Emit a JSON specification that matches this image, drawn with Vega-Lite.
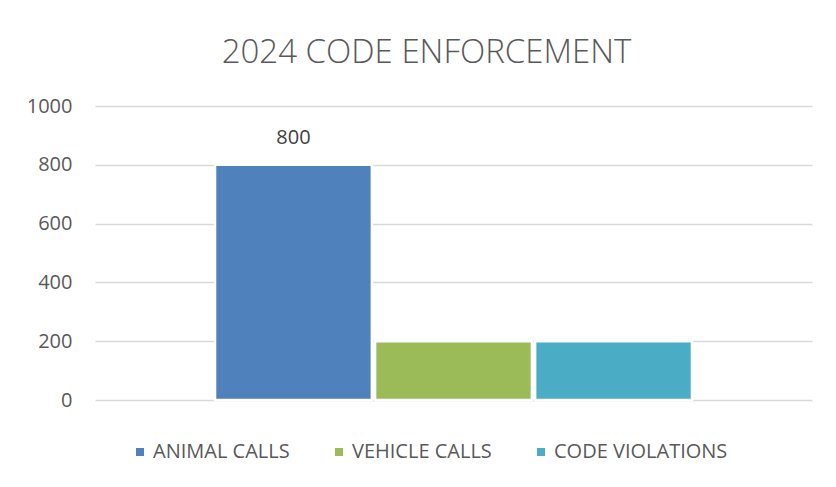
{
  "$schema": "https://vega.github.io/schema/vega-lite/v6.json",
  "width": 717,
  "height": 294,
  "autosize": {"type": "none"},
  "padding": {"left": 95, "top": 106, "right": 24, "bottom": 87},
  "background": "white",
  "config": {"view": {"stroke": null}, "font": "Open Sans"},
  "title": {
    "text": "2024 CODE ENFORCEMENT",
    "font": "Open Sans",
    "fontSize": 33,
    "fontWeight": 300,
    "color": "#595959",
    "anchor": "middle",
    "frame": "group",
    "dx": -27,
    "offset": 26
  },
  "data": {
    "values": [
      {"series": "ANIMAL CALLS", "value": 800},
      {"series": "VEHICLE CALLS", "value": 200},
      {"series": "CODE VIOLATIONS", "value": 200}
    ]
  },
  "encoding": {
    "x": {
      "field": "series",
      "type": "nominal",
      "sort": ["ANIMAL CALLS", "VEHICLE CALLS", "CODE VIOLATIONS"],
      "scale": {"paddingInner": 0.02, "paddingOuter": 0.75},
      "axis": null
    },
    "y": {
      "field": "value",
      "type": "quantitative",
      "scale": {"domain": [0, 1000], "nice": false},
      "axis": {
        "title": null,
        "values": [0, 200, 400, 600, 800, 1000],
        "format": "d",
        "domain": false,
        "ticks": false,
        "labelPadding": 23,
        "labelFontSize": 20,
        "labelColor": "#595959",
        "labelFont": "Open Sans",
        "gridColor": "#d9d9d9",
        "gridWidth": 1.5
      }
    }
  },
  "layer": [
    {
      "mark": {"type": "bar", "stroke": "white", "strokeWidth": 2.5},
      "encoding": {
        "color": {
          "field": "series",
          "type": "nominal",
          "sort": ["ANIMAL CALLS", "VEHICLE CALLS", "CODE VIOLATIONS"],
          "scale": {
            "domain": ["ANIMAL CALLS", "VEHICLE CALLS", "CODE VIOLATIONS"],
            "range": ["#4f81bd", "#9bbb59", "#4bacc6"]
          },
          "legend": {
            "title": null,
            "orient": "none",
            "direction": "horizontal",
            "legendX": 35,
            "legendY": 336,
            "symbolType": "square",
            "symbolSize": 64,
            "symbolStrokeWidth": 0,
            "symbolOpacity": 1,
            "labelOffset": 3,
            "columnPadding": 39,
            "labelLimit": 400,
            "labelFontSize": 20,
            "labelColor": "#595959",
            "labelFont": "Open Sans"
          }
        }
      }
    },
    {
      "transform": [{"filter": "datum.series === 'ANIMAL CALLS'"}],
      "mark": {
        "type": "text",
        "dy": -27,
        "fontSize": 20,
        "color": "#404040",
        "font": "Open Sans"
      },
      "encoding": {"text": {"field": "value", "type": "quantitative"}}
    }
  ]
}
